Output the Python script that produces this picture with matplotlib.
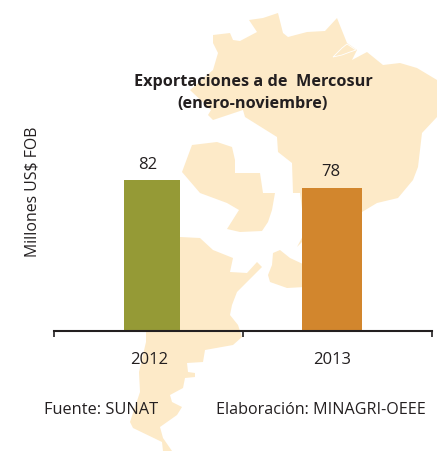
# -*- coding: utf-8 -*-
"""Exportaciones a de Mercosur: two bars over a pale map of South America."""
import matplotlib.pyplot as plt
from matplotlib.patches import Polygon

# --- DATA ---
years = ['2012', '2013']
values = [82, 78]
bar_colors = ['#959a36', '#d2862d']

# --- CONFIGURATION ---
WIDTH, HEIGHT = 437, 451
TEXT_COLOR = '#231f20'
MAP_COLOR = '#fdeac8'
plt.rcParams['font.family'] = ['Open Sans', 'DejaVu Sans']

# Background map outlines, in picture pixels
brazil = [(213, 35), (230, 33), (233, 40), (240, 41), (257, 32), (249, 20), (263, 18),
          (278, 13), (283, 33), (288, 37), (307, 32), (325, 31), (337, 18), (343, 33),
          (347, 43), (357, 50), (352, 60), (367, 52), (383, 65), (400, 63),
          (417, 68), (437, 80), (437, 117), (422, 133), (418, 167), (413, 180),
          (398, 198), (377, 203), (362, 212), (330, 240), (302, 242), (297, 247),
          (305, 232), (300, 193), (293, 193), (292, 163), (278, 152), (277, 137),
          (245, 117), (243, 110), (213, 120), (208, 115), (211, 110), (190, 90),
          (213, 70), (218, 53), (213, 43)]
paraguay = [(192, 145), (217, 142), (232, 147), (235, 160), (235, 173), (260, 173),
            (263, 193), (275, 193), (272, 210), (268, 222), (262, 231), (240, 232),
            (227, 229), (239, 210), (227, 203), (200, 193), (182, 172)]
argentina = [(150, 240), (180, 237), (200, 238), (213, 250), (233, 258), (230, 272),
             (247, 273), (257, 262), (262, 267), (257, 272), (237, 292), (232, 305),
             (230, 315), (238, 325), (242, 337), (233, 345), (205, 350), (203, 362),
             (187, 363), (188, 372), (195, 373), (195, 377), (185, 378), (183, 388),
             (170, 395), (172, 402), (182, 407), (177, 415), (160, 427), (163, 438),
             (172, 451), (163, 451), (162, 442), (133, 428), (130, 422), (140, 392),
             (139, 372), (146, 342), (146, 331)]
uruguay = [(273, 253), (280, 250), (290, 258), (305, 265), (305, 287), (287, 288),
           (270, 282), (268, 275), (272, 265)]
amazon_mouth = [(333, 57), (342, 48), (347, 44), (356, 50), (350, 52), (342, 55)]

fig = plt.figure(figsize=(WIDTH / 100, HEIGHT / 100), dpi=100)

# --- MAP ---
map_ax = fig.add_axes([0, 0, 1, 1])
map_ax.set_xlim(0, WIDTH)
map_ax.set_ylim(HEIGHT, 0)
map_ax.axis('off')
for outline in [brazil, paraguay, argentina, uruguay]:
    map_ax.add_patch(Polygon(outline, closed=True, color=MAP_COLOR, lw=0))
map_ax.add_patch(Polygon(amazon_mouth, closed=True, fill=False, edgecolor='white', lw=0.6))

# --- BARS ---
left, right, base, top = 53.5, 432, 330.5, 147.5
ax = fig.add_axes([left / WIDTH, 1 - base / HEIGHT, (right - left) / WIDTH, (base - top) / HEIGHT])
ax.patch.set_alpha(0)
# the bars and labels sit a little off the middle of their slot, and the bars differ in width
bar_x = [0.02, 0.97]
bar_w = [0.296, 0.317]
value_x = [-0.002, 0.967]
year_x = [0.007, 0.972]
ax.bar(bar_x, values, width=bar_w, color=bar_colors, linewidth=0)
ax.set_xlim(-0.5, 1.5)
ax.set_ylim(0, 100)

for x, v in zip(value_x, values):
    ax.text(x, v + 4, str(v), ha='center', va='bottom', fontsize=12, color=TEXT_COLOR)

for side in ['top', 'right', 'left']:
    ax.spines[side].set_visible(False)
ax.spines['bottom'].set_linewidth(1.5)
ax.spines['bottom'].set_color(TEXT_COLOR)
ax.set_yticks([])
ax.set_xticks([-0.5, 0.5, 1.5])
ax.set_xticklabels([])
ax.tick_params(axis='x', length=4, width=1.2, color=TEXT_COLOR)
for x, year in zip(year_x, years):
    ax.annotate(year, (x, 0), xytext=(0, -15.5), textcoords='offset points', xycoords=('data', 'axes fraction'),
                ha='center', va='top', fontsize=12, color=TEXT_COLOR)

# --- TEXTS ---
fig.text(253 / WIDTH, 1 - 82.5 / HEIGHT, 'Exportaciones a de  Mercosur', ha='center', va='center',
         fontsize=11.7, fontweight='bold', color=TEXT_COLOR)
fig.text(253 / WIDTH, 1 - 104.5 / HEIGHT, '(enero-noviembre)', ha='center', va='center',
         fontsize=11.7, fontweight='bold', color=TEXT_COLOR)
fig.text(33 / WIDTH, 1 - 192 / HEIGHT, 'Millones US$ FOB', rotation=90, ha='center', va='center',
         fontsize=11.4, color=TEXT_COLOR)
fig.text(44 / WIDTH, 1 - 409.5 / HEIGHT, 'Fuente: SUNAT', ha='left', va='center', fontsize=11.8, color=TEXT_COLOR)
fig.text(216 / WIDTH, 1 - 409.5 / HEIGHT, 'Elaboración: MINAGRI-OEEE', ha='left', va='center',
         fontsize=11.6, color=TEXT_COLOR)

fig.savefig('out.png', dpi=100)
